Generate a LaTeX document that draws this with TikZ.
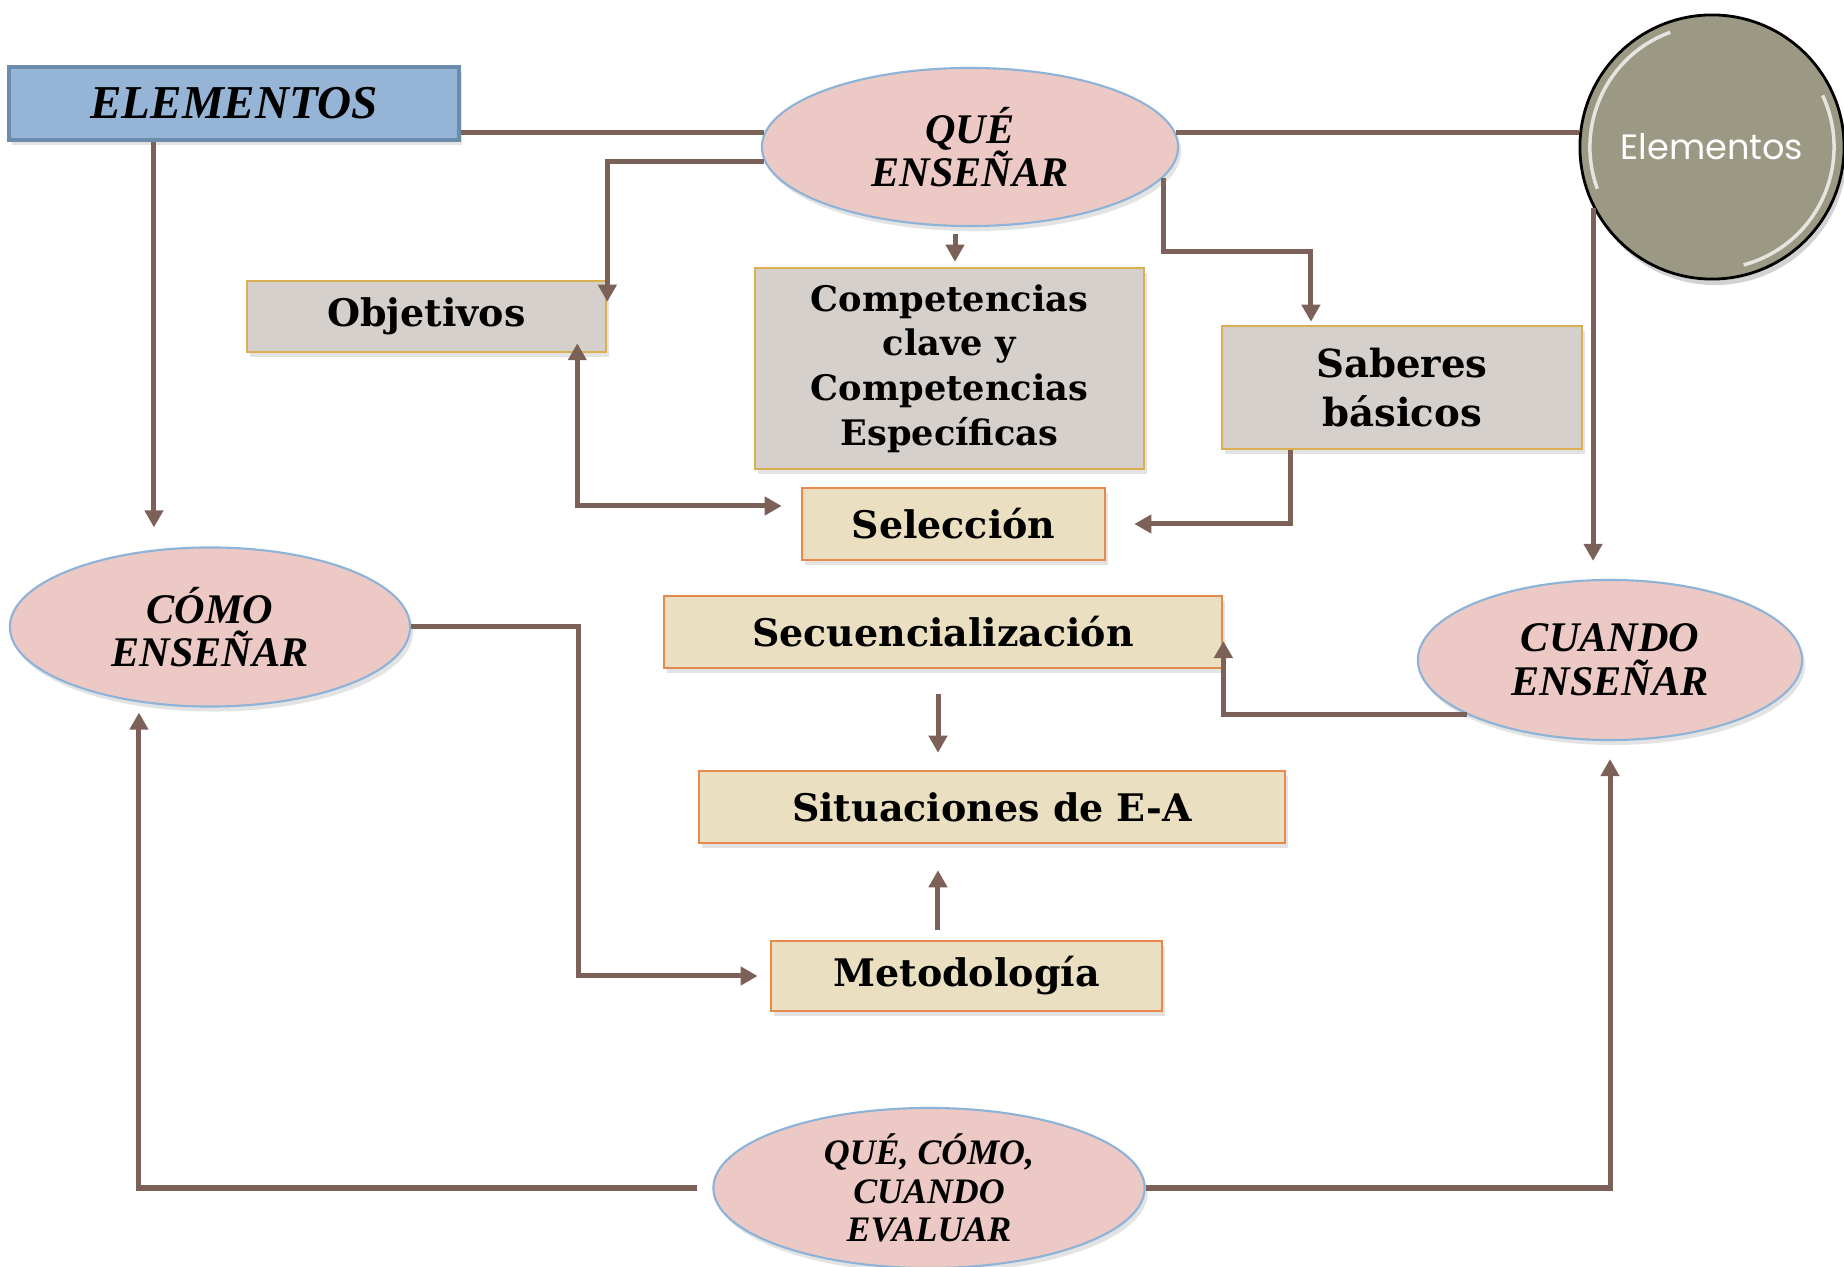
\documentclass[tikz,border=0pt]{standalone}
\usepackage{fontspec}
\setmainfont{Liberation Serif}
\newfontfamily\boxfont{DejaVu Serif}
\newfontfamily\roundfont{Poppins}
\usetikzlibrary{shapes.geometric,arrows.meta,shadows}
\definecolor{linebrown}{HTML}{7B6157}
\definecolor{ovalpink}{HTML}{ECC9C4}
\definecolor{ovalblue}{HTML}{8DB3D9}
\definecolor{greyfill}{HTML}{D6D0CD}
\definecolor{goldline}{HTML}{D9AF52}
\definecolor{creamfill}{HTML}{EAE0C1}
\definecolor{orangeline}{HTML}{E48A4E}
\definecolor{titleblue}{HTML}{95B4D6}
\definecolor{titleedge}{HTML}{6C8CAB}
\definecolor{knob}{HTML}{9B9884}

\begin{document}
\begin{tikzpicture}[x=0.01cm,y=-0.01cm]
	\tikzstyle{shade}=[drop shadow={shadow xshift=0.03cm,shadow yshift=-0.05cm,opacity=0.22}]
	\tikzstyle{oval}=[ellipse,shade,fill=ovalpink,draw=ovalblue,line width=0.6pt,inner sep=0pt,align=center,font=\bfseries\itshape\fontsize{12}{12.4}\selectfont]
	\tikzstyle{greybox}=[rectangle,shade,fill=greyfill,draw=goldline,line width=0.7pt,inner sep=0pt,align=center,font=\boxfont\bfseries\fontsize{10.8}{13}\selectfont]
	\tikzstyle{creambox}=[greybox,fill=creamfill,draw=orangeline]
	\tikzstyle{flow}=[draw=linebrown,line width=0.05cm,-{Triangle[width=0.18cm,length=0.17cm]}]
	\tikzstyle{plain}=[draw=linebrown,line width=0.05cm]
	\useasboundingbox (0,0) rectangle (1844,1267);
	\fill[white] (0,0) rectangle (1844,1267);

	% top row
	\node[rectangle,shade,fill=titleblue,draw=titleedge,line width=1.2pt,minimum width=4.5cm,minimum height=0.73cm,font=\bfseries\itshape\fontsize{13.4}{14}\selectfont] (elem) at (234,103.5) {ELEMENTOS};
	\node[oval,minimum width=4.16cm,minimum height=1.58cm] (que) at (970,147) {QUÉ\\ENSEÑAR};
	\node[circle,fill=knob,draw=black,line width=0.8pt,minimum size=2.64cm,text=white,font=\roundfont\fontsize{10}{12}\selectfont,drop shadow={shadow xshift=0.03cm,shadow yshift=-0.06cm,opacity=0.35}] (circ) at (1712,147) {Elementos};
	\draw[white,opacity=0.75,line width=0.035cm] (circ.center) ++(110:1.22cm) arc[start angle=110,end angle=200,radius=1.22cm];
	\draw[white,opacity=0.75,line width=0.035cm] (circ.center) ++(-75:1.22cm) arc[start angle=-75,end angle=25,radius=1.22cm];

	% what
	\node[greybox,minimum width=3.59cm,minimum height=0.71cm] (obj) at (426.5,316.5) {Objetivos};
	\node[greybox,minimum width=3.89cm,minimum height=2.01cm,font=\boxfont\bfseries\fontsize{10}{12.7}\selectfont] (comp) at (949.5,368.5) {Competencias\\clave y\\Competencias\\Específicas};
	\node[greybox,minimum width=3.6cm,minimum height=1.23cm,font=\boxfont\bfseries\fontsize{11}{14}\selectfont] (sab) at (1402,387.5) {Saberes\\básicos};
	\node[creambox,minimum width=3.03cm,minimum height=0.72cm] (sel) at (953.5,524) {Selección};
	\node[creambox,minimum width=5.58cm,minimum height=0.72cm] (sec) at (943,632) {Secuencialización};
	\node[creambox,minimum width=5.86cm,minimum height=0.72cm] (sit) at (992,807) {Situaciones de E-A};
	\node[creambox,minimum width=3.91cm,minimum height=0.7cm] (met) at (966.5,976) {Metodología};

	% how, when, evaluate
	\node[oval,minimum width=4.0cm,minimum height=1.59cm] (como) at (210,627) {CÓMO\\ENSEÑAR};
	\node[oval,minimum width=3.84cm,minimum height=1.6cm] (cuando) at (1610,660) {CUANDO\\ENSEÑAR};
	\node[oval,minimum width=4.31cm,minimum height=1.6cm,inner ysep=-4pt,font=\bfseries\itshape\fontsize{10.2}{11}\selectfont] (eval) at (929,1188) {QUÉ, CÓMO,\\CUANDO\\EVALUAR};

	% connectors
	\draw[plain] (elem.east |- que.176) -- (que.176);
	\draw[plain] (que.4) -- (que.4 -| circ.west);
	\draw[flow,shorten >=0.18cm] (circ.207.5) -- (circ.207.5 |- cuando.north);
	\draw[flow,shorten >=0.19cm] ([xshift=-0.8cm]elem.south) -- ([xshift=-0.8cm]elem.south |- como.north);
	\draw[flow] (que.184) -| ([yshift=-0.22cm]obj.north east);
	\draw[flow,{Triangle[width=0.18cm,length=0.17cm]}-{Triangle[width=0.18cm,length=0.17cm]},shorten >=0.19cm] ([xshift=-0.3cm,yshift=0.1cm]obj.south east) |- ([yshift=0.18cm]sel.west);
	\draw[flow,shorten <=0.07cm,shorten >=0.05cm] (que.south -| 955,0) -- (955,0 |- comp.north);
	\draw[flow,shorten >=0.03cm] (que.-9) -- ++(0,74) -| ([xshift=-0.91cm]sab.north);
	\draw[flow,shorten >=0.28cm] ([xshift=-1.11cm]sab.south) |- (sel.east);
	\draw[flow] (cuando.201) -| ([yshift=-0.09cm]sec.east);
	\draw[flow,shorten <=0.25cm,shorten >=0.17cm] ([xshift=-0.05cm]sec.south) -- ([xshift=-0.05cm]sec.south |- sit.north);
	\draw[flow,shorten <=0.1cm,shorten >=0.26cm] ([xshift=-0.285cm]met.north) -- ([xshift=-0.285cm]met.north |- sit.south);
	\draw[flow,shorten >=0.12cm] (como.east) -- ++(167,0) |- (met.west);
	\draw[flow,shorten <=0.15cm,shorten >=0.05cm] (eval.west) -| ([xshift=-0.71cm]como.south);
	\draw[flow,shorten >=0.18cm] (eval.east) -| (cuando.south);
\end{tikzpicture}
\end{document}
